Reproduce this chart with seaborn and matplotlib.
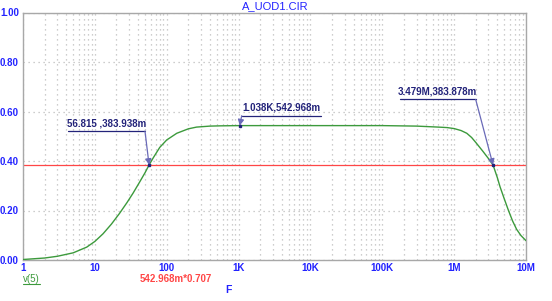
import matplotlib
matplotlib.use("Agg")
import matplotlib.pyplot as plt
from matplotlib.lines import Line2D
import seaborn as sns
import pandas as pd

# ---- data ----
freq = [1, 2, 3, 5, 7.7, 10, 13, 17, 22, 28, 34, 42, 50, 56.815, 65, 80, 100, 138,
        200, 260, 400, 550, 1038, 1e4, 1e5, 3e5, 6e5, 8e5, 1e6, 1.25e6, 1.5e6, 1.75e6,
        2e6, 2.5e6, 3e6, 3.479e6, 4e6, 4.35e6, 5e6, 5.67e6, 6.5e6, 7.4e6, 8.5e6, 1e7]
v5 = [0.002, 0.008, 0.015, 0.029, 0.052, 0.075, 0.106, 0.145, 0.188, 0.232, 0.270,
      0.315, 0.353, 0.384, 0.413, 0.455, 0.485, 0.512, 0.530, 0.537, 0.541, 0.542,
      0.543, 0.543, 0.543, 0.541, 0.537, 0.535, 0.531, 0.523, 0.512, 0.495, 0.475,
      0.440, 0.410, 0.384, 0.332, 0.296, 0.246, 0.202, 0.158, 0.124, 0.099, 0.078]
ref_level = 0.542968 * 0.707
marker_x = [56.815, 1038, 3.479e6]
marker_y = [0.383938, 0.542968, 0.383878]
marker_labels = ["56.815 ,383.938m", "1.038K,542.968m", "3.479M,383.878m"]
xticks = [1, 10, 100, 1e3, 1e4, 1e5, 1e6, 1e7]
xtick_labels = ["1", "10", "100", "1K", "10K", "100K", "1M", "10M"]
yticks = [0.0, 0.2, 0.4, 0.6, 0.8, 1.0]
ytick_labels = ["0.00", "0.20", "0.40", "0.60", "0.80", "1.00"]
title = "A_UOD1.CIR"
xlabel = "F"
trace_name = "v(5)"
ref_expr = "542.968m*0.707"

df = pd.DataFrame({"F": freq, "v5": v5})

sns.set_style("white")
plt.rcParams["font.family"] = ["Liberation Sans", "DejaVu Sans"]

BLUE = "#2323ff"
NAVY = "#23237a"
LEAD = "#6a6ab8"
GREEN = "#3c9a3c"
RED = "#ff4646"
GRID = "#bdbdbd"

fig = plt.figure(figsize=(5.52, 3.01), dpi=100)
W, H = 552, 301
ax = fig.add_axes([23 / W, 1 - 260 / H, 503 / W, 247.5 / H])

sns.lineplot(data=df, x="F", y="v5", ax=ax, color=GREEN, linewidth=1.0, zorder=3)
ax.axhline(ref_level, color=RED, linewidth=0.9, zorder=2)

ax.set_xscale("log")
ax.set_xlim(1, 1e7)
ax.set_ylim(0, 1)
ax.set_xticks(xticks)
ax.set_xticklabels(xtick_labels)
ax.set_yticks(yticks)
ax.set_yticklabels(ytick_labels)
ax.xaxis.set_minor_locator(matplotlib.ticker.LogLocator(base=10, subs=range(2, 10), numticks=100))
ax.xaxis.set_minor_formatter(matplotlib.ticker.NullFormatter())
ax.tick_params(axis="both", which="both", length=0)
ax.tick_params(axis="x", pad=2)
ax.tick_params(axis="y", pad=3)
for lab in ax.get_xticklabels() + ax.get_yticklabels():
    lab.set_color(BLUE)
    lab.set_fontweight("bold")
    lab.set_fontsize(7)

grid_ls = (0, (1, 3))
ax.grid(True, which="both", axis="x", color=GRID, linestyle=grid_ls, linewidth=0.9)
ax.grid(True, which="major", axis="y", color=GRID, linestyle=grid_ls, linewidth=0.9)
for s in ax.spines.values():
    s.set_color("#a8a8a8")
    s.set_linewidth(1.0)

ax.set_xlabel("")
ax.set_ylabel("")

# marker annotations (text positions in axes fraction)
label_pos = [
    # (underline x0, x1, y, leader-start x)
    (0.0895, 0.2425, 0.521, 0.2425),
    (0.4348, 0.5924, 0.583, 0.4348),
    (0.7490, 0.9000, 0.6485, 0.9000),
]
for (mx, my, txt, (u0, u1, uy, lx)) in zip(marker_x, marker_y, marker_labels, label_pos):
    ax.plot([u0, u1], [uy, uy], transform=ax.transAxes, color=NAVY, linewidth=0.9, zorder=4)
    ax.text((u0 + u1) / 2, uy + 0.012, txt, transform=ax.transAxes, ha="center", va="bottom",
            color=NAVY, fontsize=7, fontweight="bold", zorder=5)
    ax.annotate("", xy=(mx, my), xycoords="data", xytext=(lx, uy), textcoords="axes fraction",
                arrowprops=dict(arrowstyle="-|>,head_length=0.35,head_width=0.18",
                                color=LEAD, linewidth=0.9, shrinkA=0, shrinkB=0), zorder=5)
    ax.plot([mx], [my], marker="s", markersize=2.0, color=NAVY, zorder=6)

fig.text(275 / W, 1 - 6.5 / H, title, ha="center", va="center", color=BLUE, fontsize=8)
fig.text(23 / W, 1 - 279 / H, trace_name, ha="left", va="center", color=GREEN, fontsize=7)
fig.add_artist(Line2D([23 / W, 40 / W], [1 - 284 / H, 1 - 284 / H], color=GREEN, linewidth=0.8))
fig.text(176 / W, 1 - 279 / H, ref_expr, ha="center", va="center", color=RED, fontsize=7, fontweight="bold")
fig.text(228 / W, 1 - 290 / H, xlabel, ha="center", va="center", color=BLUE, fontsize=7.5, fontweight="bold")

fig.savefig("out.png", dpi=100)
